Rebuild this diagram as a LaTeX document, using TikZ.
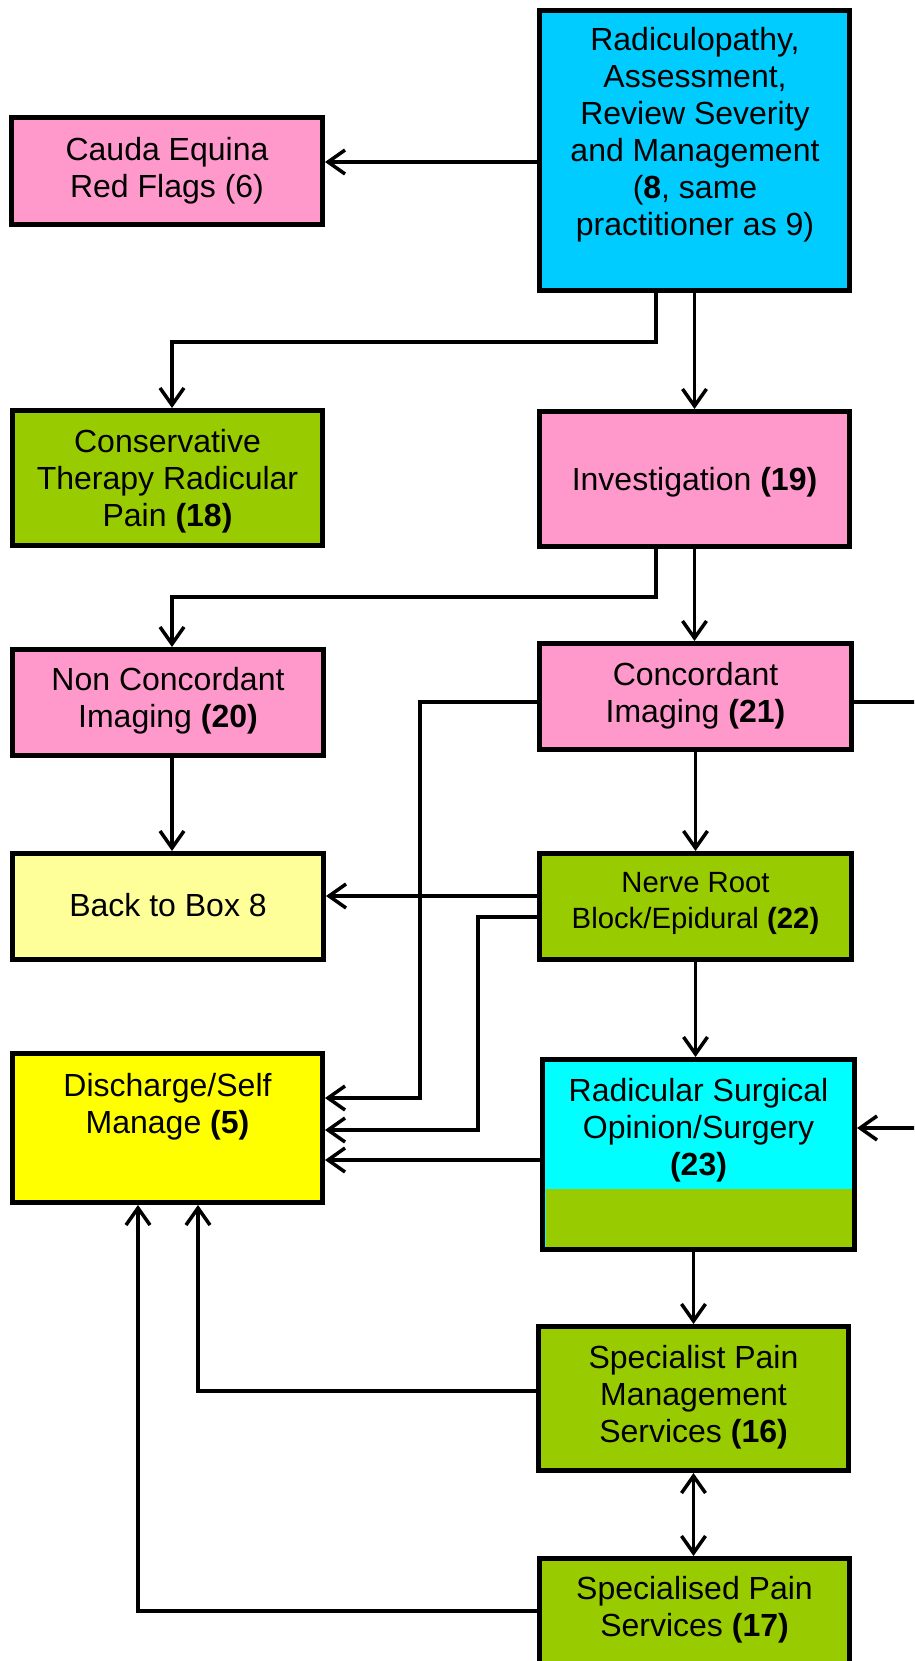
\documentclass[tikz,border=0pt]{standalone}
\usepackage{fontspec}
\setmainfont{Liberation Sans}
\usetikzlibrary{arrows.meta}
\definecolor{topcyan}{HTML}{00CCFF}
\definecolor{surgcyan}{HTML}{00FFFF}
\definecolor{boxpink}{HTML}{FF99CC}
\definecolor{boxgreen}{HTML}{99CC00}
\definecolor{lightyel}{HTML}{FFFF99}
\definecolor{boxyel}{HTML}{FFFF00}
\begin{document}
\begin{tikzpicture}[x=1pt,y=-1pt,
  box/.style={draw=black, line width=5pt, inner sep=0pt, minimum width=310pt},
  txt/.style={align=center, inner sep=0pt, font=\fontsize{32}{37}\selectfont},
  smalltxt/.style={align=center, inner sep=0pt, font=\fontsize{29.3}{36}\selectfont},
  conn/.style={line width=3.2pt, -{Straight Barb[length=17pt,width=24pt,line width=3.5pt]}},
  dconn/.style={line width=3.2pt, {Straight Barb[length=17pt,width=24pt,line width=3.5pt]}-{Straight Barb[length=17pt,width=24pt,line width=3.5pt]}}
]
\useasboundingbox (0,0) rectangle (914,1661);
\fill[white] (0,0) rectangle (914,1661);
\clip (0,0) rectangle (914,1661);

% boxes
\node[box, fill=topcyan, minimum height=280pt] (b8) at (694.5,150.5) {};
\node[box, fill=boxpink, minimum width=311pt, minimum height=107pt] (b6) at (167,171) {};
\node[box, fill=boxgreen, minimum height=135pt] (b18) at (167.5,478) {};
\node[box, fill=boxpink, minimum height=135pt] (b19) at (694.5,479) {};
\node[box, fill=boxpink, minimum width=311pt, minimum height=106pt] (b20) at (168,702.5) {};
\node[box, fill=boxpink, minimum width=312pt, minimum height=106pt] (b21) at (695.5,696.5) {};
\node[box, fill=lightyel, minimum width=311pt, minimum height=106pt] (bback) at (168,906.5) {};
\node[box, fill=boxgreen, minimum width=312pt, minimum height=106pt] (b22) at (695.5,906.5) {};
\node[box, fill=boxyel, minimum height=149pt] (b5) at (167.5,1128) {};
\node[box, fill=surgcyan, minimum width=312pt, minimum height=190pt] (b23) at (698.5,1154.5) {};
\fill[boxgreen] (546,1189) rectangle (852,1250);
\draw[line width=5pt] ([shift={(2.5pt,-2.5pt)}]b23.north west) rectangle ([shift={(-2.5pt,2.5pt)}]b23.south east);
\node[box, fill=boxgreen, minimum height=144pt] (b16) at (693.5,1398.5) {};
\node[box, fill=boxgreen, minimum height=159pt] (b17) at (694.5,1638) {};

% texts
\node[txt] (t8) at (695,135) {Radiculopathy,\\Assessment,\\Review Severity\\and Management\\(\textbf{8}, same\\practitioner as 9)};
\node[txt] (t6) at (167,171) {Cauda Equina\\Red Flags (6)};
\node[txt] (t18) at (167.5,481) {Conservative\\Therapy Radicular\\Pain \textbf{(18)}};
\node[txt] (t19) at (694.5,482) {Investigation \textbf{(19)}};
\node[txt] (t20) at (168,701) {Non Concordant\\Imaging \textbf{(20)}};
\node[txt] (t21) at (695.5,696) {Concordant\\Imaging \textbf{(21)}};
\node[txt] (tback) at (168,905) {Back to Box 8};
\node[smalltxt] (t22) at (695.5,903) {Nerve Root\\Block/Epidural \textbf{(22)}};
\node[txt] (t5) at (167.5,1107) {Discharge/Self\\Manage \textbf{(5)}};
\node[txt] (t23) at (698.5,1130) {Radicular Surgical\\Opinion/Surgery\\\textbf{(23)}};
\node[txt] (t16) at (693.5,1397) {Specialist Pain\\Management\\Services \textbf{(16)}};
\node[txt] (t17) at (694.5,1610) {Specialised Pain\\Services \textbf{(17)}};

% connectors
\draw[conn] ([yshift=-11.5pt]b8.west) -- ([yshift=-11.5pt]b8.west -| b6.east);
\draw[conn] ([xshift=-38.5pt]b8.south) -- ++(0,49) -| ([xshift=4.5pt]b18.north);
\draw[conn] (b8.south) -- (b19.north);
\draw[conn] ([xshift=-38.5pt]b19.south) -- ++(0,48) -| ([xshift=4pt]b20.north);
\draw[conn] (b19.south) -- (b19.south |- b21.north);
\draw[conn] ([xshift=4pt]b20.south) -- ([xshift=4pt]bback.north);
\draw[conn] (b21.south) -- (b22.north);
\draw[conn] ([yshift=-5.5pt]b21.west) -| (420,1098) -- ([yshift=30pt]b5.east);
\draw[conn] ([yshift=-5.5pt]b21.east) -- (945,702) |- ([yshift=26.5pt]b23.east);
\draw[conn] ([yshift=10.5pt]b22.west) -- ([yshift=10.5pt]bback.east);
\draw[conn] ([yshift=-10.5pt]b22.west) -| (478,1130) -- ([yshift=-2pt]b5.east);
\draw[conn] ([yshift=-5.5pt]b23.west) -- ([yshift=-32pt]b5.east);
\draw[conn] (b22.south) -- (b22.south |- b23.north);
\draw[conn] (b16.north |- b23.south) -- (b16.north);
\draw[dconn] (b16.south) -- (b16.south |- b17.north);
\draw[conn] ([yshift=7.5pt]b16.west) -| ([xshift=30.5pt]b5.south);
\draw[conn] ([yshift=27pt]b17.west) -| ([xshift=-29.5pt]b5.south);
\end{tikzpicture}
\end{document}
